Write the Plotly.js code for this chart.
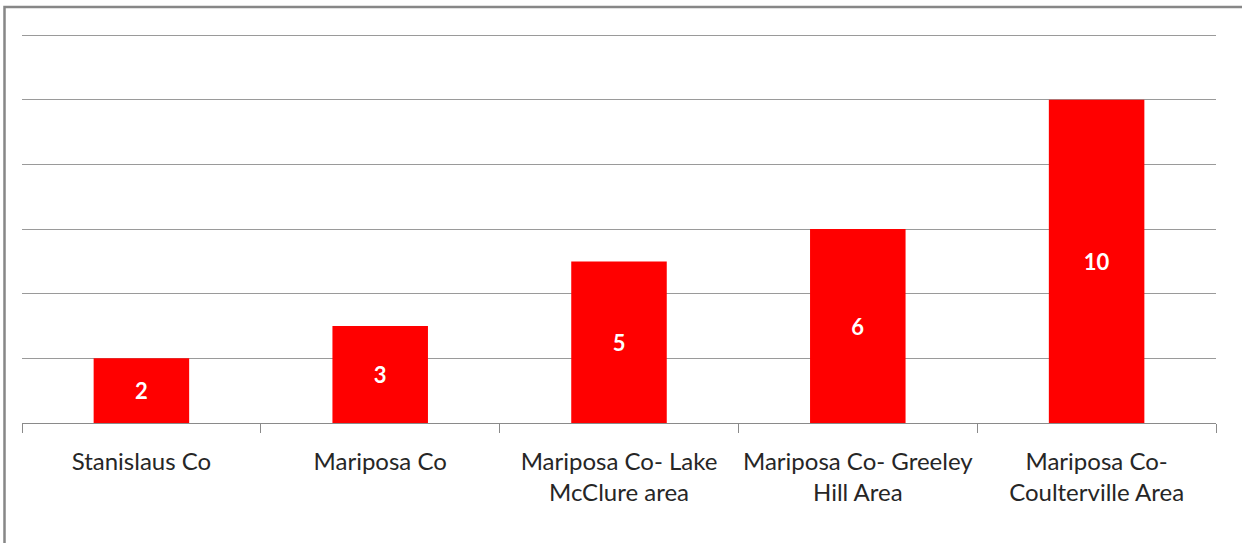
<!DOCTYPE html>
<html>
<head>
<meta charset="utf-8">
<script src="https://cdn.plot.ly/plotly-3.0.1.min.js"></script>
<style>
html,body{margin:0;padding:0;background:#fff;}
#chart{width:1242px;height:543px;}
</style>
</head>
<body>
<div id="chart"></div>
<script>
const categories = [
  "Stanislaus Co",
  "Mariposa Co",
  "Mariposa Co- Lake<br>McClure area",
  "Mariposa Co- Greeley<br>Hill Area",
  "Mariposa Co-<br>Coulterville Area"
];
const values = [2, 3, 5, 6, 10];
const valueLabels = ["2", "3", "5", "6", "10"];

const W = 1242, H = 543;
const m = {l: 22, r: 26, t: 32, b: 120};
const pw = W - m.l - m.r, ph = H - m.t - m.b;
const px = x => (x - m.l) / pw;
const py = y => (H - m.b - y) / ph;

const trace = {
  type: 'bar',
  x: categories,
  y: values,
  text: valueLabels,
  textposition: 'inside',
  insidetextanchor: 'middle',
  textangle: 0,
  textfont: {family: 'Lato, "Open Sans", sans-serif', size: 22, color: '#ffffff', weight: 'bold'},
  marker: {color: '#ff0000', line: {width: 0}},
  hoverinfo: 'none'
};

const layout = {
  width: W, height: H,
  margin: m,
  paper_bgcolor: '#ffffff',
  plot_bgcolor: '#ffffff',
  showlegend: false,
  bargap: 0.6,
  font: {family: 'Lato, "Open Sans", sans-serif', color: '#404040'},
  xaxis: {
    type: 'category',
    tickson: 'boundaries',
    ticks: 'outside',
    ticklen: 9,
    tickwidth: 1,
    tickcolor: '#8a8a8a',
    tickangle: 0,
    showline: true,
    linecolor: '#8a8a8a',
    linewidth: 1,
    showgrid: false,
    tickfont: {size: 24, color: '#262626', family: 'Lato, "Open Sans", sans-serif'},
    ticklabelstandoff: 17,
    fixedrange: true
  },
  yaxis: {
    range: [0, 12.1],
    tickvals: [2, 4, 6, 8, 10, 12],
    showticklabels: false,
    showgrid: true,
    gridcolor: '#9a9a9a',
    gridwidth: 1,
    zeroline: false,
    showline: false,
    ticks: '',
    fixedrange: true
  },
  shapes: [{
    type: 'rect', xref: 'paper', yref: 'paper',
    x0: px(4.5), x1: px(1260), y0: py(560), y1: py(7),
    line: {color: '#878787', width: 2.5},
    fillcolor: 'rgba(0,0,0,0)',
    layer: 'above'
  }]
};

Plotly.newPlot('chart', [trace], layout, {displayModeBar: false, staticPlot: true});
</script>
</body>
</html>
